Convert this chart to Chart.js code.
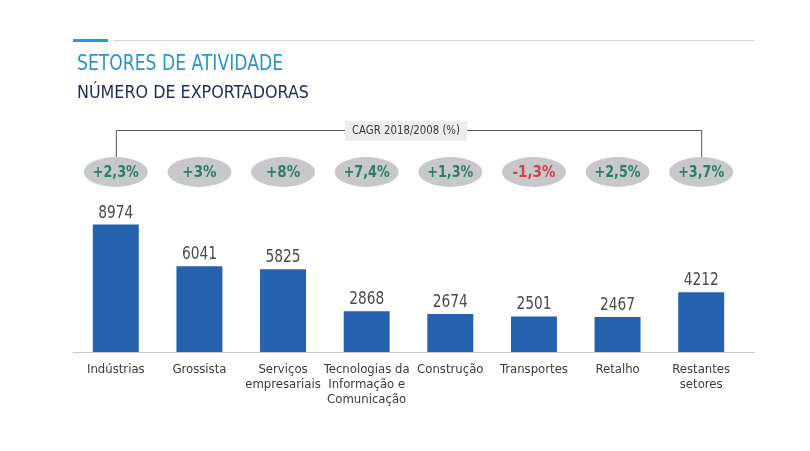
<!DOCTYPE html>
<html>
<head>
<meta charset="utf-8">
<script src="https://cdn.jsdelivr.net/npm/chart.js@4.4.0/dist/chart.umd.min.js"></script>
<style>
  html, body { margin: 0; padding: 0; background: #ffffff; }
  #wrap { position: relative; width: 810px; height: 451px; }
</style>
</head>
<body>
<div id="wrap"><canvas id="exportChart"></canvas></div>
<script>
const categories = [
    'Indústrias',
    'Grossista',
    ['Serviços', 'empresariais'],
    ['Tecnologias da', 'Informação e', 'Comunicação'],
    'Construção',
    'Transportes',
    'Retalho',
    ['Restantes', 'setores']
];
const exporters = [8974, 6041, 5825, 2868, 2674, 2501, 2467, 4212];
const cagr = ['+2,3%', '+3%', '+8%', '+7,4%', '+1,3%', '-1,3%', '+2,5%', '+3,7%'];

const FONT = '"Liberation Sans Narrow", "DejaVu Sans Condensed", "Open Sans", sans-serif';

// draws text squeezed horizontally so it fits the given width
function narrowText(ctx, text, x, y, width) {
    const w = ctx.measureText(text).width;
    const k = Math.min(1, width / w);
    ctx.save();
    ctx.translate(x, y);
    ctx.scale(k, 1);
    ctx.fillText(text, 0, 0);
    ctx.restore();
}

const decorations = {
    id: 'decorations',
    afterDraw(chart) {
        const ctx = chart.ctx;
        const meta = chart.getDatasetMeta(0);
        const xs = meta.data.map(b => b.x);
        ctx.save();

        // header rules
        ctx.fillStyle = '#2b9ad2';
        ctx.fillRect(73, 39, 35, 3);
        ctx.fillStyle = '#d4d6d8';
        ctx.fillRect(113, 40, 642, 1);

        // titles
        ctx.textBaseline = 'alphabetic';
        ctx.textAlign = 'left';
        ctx.fillStyle = '#2a95c9';
        ctx.font = '22px ' + FONT;
        narrowText(ctx, 'SETORES DE ATIVIDADE', 77, 70, 206);
        ctx.fillStyle = '#1d2b55';
        ctx.font = '18px ' + FONT;
        narrowText(ctx, 'NÚMERO DE EXPORTADORAS', 77, 98, 232);

        // bracket
        const left = xs[0], right = xs[xs.length - 1];
        ctx.strokeStyle = '#555';
        ctx.lineWidth = 1;
        ctx.beginPath();
        ctx.moveTo(left + 0.5, 157);
        ctx.lineTo(left + 0.5, 130.5);
        ctx.lineTo(right + 0.5, 130.5);
        ctx.lineTo(right + 0.5, 157);
        ctx.stroke();

        ctx.textBaseline = 'middle';
        ctx.font = '13px ' + FONT;
        ctx.textAlign = 'center';
        ctx.fillStyle = '#ededed';
        ctx.fillRect(345, 121, 122, 20);
        ctx.fillStyle = '#3a3a3a';
        narrowText(ctx, 'CAGR 2018/2008 (%)', 406, 131, 108);

        // CAGR ellipses
        ctx.font = 'bold 15px ' + FONT;
        xs.forEach((x, i) => {
            ctx.fillStyle = '#c6c8ca';
            ctx.beginPath();
            ctx.ellipse(x, 172, 32, 15, 0, 0, Math.PI * 2);
            ctx.fill();
            ctx.fillStyle = cagr[i].startsWith('-') ? '#d2434f' : '#2e7d68';
            narrowText(ctx, cagr[i], x, 173, 46);
        });

        // value labels
        ctx.font = '17px ' + FONT;
        ctx.fillStyle = '#4a4a4a';
        ctx.textBaseline = 'alphabetic';
        meta.data.forEach((bar, i) => {
            narrowText(ctx, String(exporters[i]), bar.x, bar.y - 7, 35);
        });

        // baseline
        ctx.fillStyle = '#c8cacc';
        ctx.fillRect(73, chart.chartArea.bottom, 682, 1);
        ctx.restore();
    }
};

new Chart(document.getElementById('exportChart'), {
    type: 'bar',
    data: {
        labels: categories,
        datasets: [{
            data: exporters,
            backgroundColor: '#2462b0',
            barPercentage: 0.55,
            categoryPercentage: 1
        }]
    },
    options: {
        responsive: true,
        maintainAspectRatio: false,
        animation: false,
        layout: { padding: { left: 74, right: 67, top: 210, bottom: 0 } },
        plugins: {
            legend: { display: false },
            tooltip: { enabled: false }
        },
        scales: {
            x: {
                grid: { display: false },
                border: { display: false },
                afterFit: (scale) => { scale.height = 99; },
                ticks: {
                    color: '#3a3a3a',
                    padding: 2,
                    maxRotation: 0,
                    autoSkip: false,
                    font: { family: FONT, size: 13, lineHeight: 1.15 }
                }
            },
            y: {
                display: false,
                min: 0,
                max: 10000
            }
        }
    },
    plugins: [decorations]
});
</script>
</body>
</html>
